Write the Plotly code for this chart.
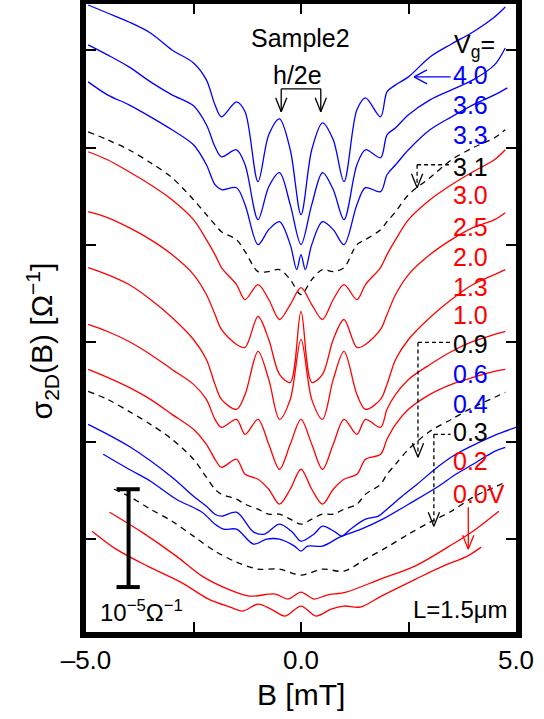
import plotly.graph_objects as go

# Vertical unit: ~1e-7 Ohm^-1 (98 units = 1e-5 Ohm^-1, the scale bar); traces are offset.
B_common = [-4.95,-4.5,-4,-3.5,-3,-2.5,-2.2,-2.0,-1.85,-1.5,-1.3,-1.0,-0.75,-0.5,-0.25,0,
            0.25,0.5,0.75,1.0,1.3,1.5,1.85,2.0,2.2,2.5,3,3.5,4,4.5,4.75]
B_spike = [-4.95,-4.5,-4,-3.5,-3,-2.5,-2.2,-2.0,-1.85,-1.5,-1.3,-1.0,-0.75,-0.5,-0.25,-0.1,0,0.1,
           0.25,0.5,0.75,1.0,1.3,1.5,1.85,2.0,2.2,2.5,3,3.5,4,4.5,4.8]

sig_40 = [635,627,618,607,590,577,560,535,523,538,528,458,505,521,490,425,490,517,500,458,530,542,523,548,555,563,583,596,608,623,633]
sig_36 = [595,585,573,558,545,534,515,493,483,490,475,420,453,467,435,395,435,467,450,420,475,490,482,505,512,525,540,550,560,575,592]
sig_33 = [558,545,535,523,510,495,475,455,450,452,435,395,410,418,395,370,385,370,395,418,410,395,435,452,448,465,475,490,510,523,535,545,552]
sig_31 = [508,500,490,477,462,440,425,415,408,400,388,368,368,370,360,345,360,370,368,372,395,400,410,418,428,445,462,480,492,502,510]
sig_30 = [488,480,468,455,440,420,400,385,372,355,340,355,340,320,335,352,335,320,340,355,340,355,372,385,400,420,440,455,468,480,490]
sig_25 = [428,422,412,400,385,365,345,325,310,295,292,323,300,265,257,328,257,265,300,320,292,295,310,325,345,365,385,400,412,420,427]
sig_20 = [372,365,355,340,322,300,280,255,240,230,245,288,260,220,240,300,240,220,260,288,245,230,240,255,280,300,322,340,355,365,370]
sig_13 = [315,308,298,285,270,255,240,220,212,220,205,220,195,170,195,220,195,170,195,220,205,220,212,230,245,260,275,288,298,305,308]
sig_10 = [270,262,252,240,225,210,195,180,172,180,165,160,150,135,150,170,150,135,150,160,165,180,185,200,215,230,245,255,262,268,270]
sig_09 = [248,240,228,215,200,180,162,150,145,140,135,130,125,125,120,115,120,125,125,130,135,145,155,165,175,190,208,220,232,242,247]

B_06 = [-4.95,-4,-3,-2.5,-2.2,-2.0,-1.85,-1.5,-1.1,-0.85,-0.5,-0.2,0,0.3,0.5,0.8,0.95,1.15,1.5,1.8,2.0,2.35,2.7,3.2,3.6,4.0,4.5,5.0]
sig_06 = [215,193,162,143,133,125,123,127,107,105,115,107,98,105,113,107,103,110,120,123,130,143,155,173,185,194,204,212]

B_04 = [-4.6,-4,-3.5,-2.9,-2.3,-2.0,-1.8,-1.5,-1.1,-0.8,-0.5,-0.15,0,0.15,0.5,0.9,1.4,1.9,2.5,3.2,3.6,4.0,4.5,4.75]
sig_04 = [185,170,158,140,127,115,110,110,95,100,100,93,88,93,93,102,110,120,135,153,165,175,188,192]

B_03 = [-4.35,-4,-3.5,-3,-2.5,-2.0,-1.5,-1.0,-0.5,0,0.5,1.0,1.5,2.0,2.5,3,3.5,4,4.5,4.75]
sig_03 = [150,143,130,118,103,88,77,70,70,64,70,68,80,92,105,117,128,142,152,157]

B_02 = [-4.45,-3.7,-2.9,-2.3,-1.7,-1.2,-0.6,-0.3,0,0.3,0.6,1.05,1.85,2.65,3.45,4.0,4.6]
sig_02 = [127,107,83,63,50,43,45,40,47,40,44,47,60,73,93,108,128]

B_00 = [-4.86,-4.3,-3.57,-2.8,-2.15,-1.65,-1.35,-1.0,-0.7,-0.37,0,0.35,0.7,1.0,1.38,1.87,2.67,3.3,3.87,4.19]
sig_00 = [108,90,73,57,40,32,28,35,30,23,33,23,30,33,32,43,60,73,83,92]

x_tickvals = [-5, 0, 5]
x_ticktext = ["–5.0", "0.0", "5.0"]
x_minor = [-2.5, 2.5]
y_ticks = [100, 197, 297, 395, 492, 590]

BLUE, RED, BLACK = "#0000ff", "#ff0000", "#000000"
traces = [
    ("4.0", B_common, sig_40, BLUE, "solid"),
    ("3.6", B_common, sig_36, BLUE, "solid"),
    ("3.3", B_spike, sig_33, BLUE, "solid"),
    ("3.1", B_common, sig_31, BLACK, "dash"),
    ("3.0", B_common, sig_30, RED, "solid"),
    ("2.5", B_common, sig_25, RED, "solid"),
    ("2.0", B_common, sig_20, RED, "solid"),
    ("1.3", B_common, sig_13, RED, "solid"),
    ("1.0", B_common, sig_10, RED, "solid"),
    ("0.9", B_common, sig_09, BLACK, "dash"),
    ("0.6", B_06, sig_06, BLUE, "solid"),
    ("0.4", B_04, sig_04, BLUE, "solid"),
    ("0.3", B_03, sig_03, BLACK, "dash"),
    ("0.2", B_02, sig_02, RED, "solid"),
    ("0.0V", B_00, sig_00, RED, "solid"),
]
label_y = [565,535,505,473,445,413,383,353,325,295,265,235,207,178,145]

FONT = "Liberation Sans, Arial, sans-serif"
fig = go.Figure()
for name, bx, sy, col, dash in traces:
    fig.add_trace(go.Scatter(x=bx, y=sy, mode="lines", name=name,
                             line=dict(color=col, width=1.3, shape="spline", smoothing=0.9,
                                       dash="6px,5px" if dash == "dash" else "solid"),
                             showlegend=False, hoverinfo="skip"))

ann = []
for (name, bx, sy, col, dash), ly in zip(traces, label_y):
    ann.append(dict(x=3.48, y=ly, xref="x", yref="y", text=name, showarrow=False,
                    xanchor="left", yanchor="middle", font=dict(family=FONT, size=25, color=col)))
ann += [
    dict(x=3.5, y=594, xref="x", yref="y", text="V<sub>g</sub>=", showarrow=False, xanchor="left",
         yanchor="middle", font=dict(family=FONT, size=25, color="black")),
    dict(x=-0.02, y=602, xref="x", yref="y", text="Sample2", showarrow=False,
         xanchor="center", yanchor="middle", font=dict(family=FONT, size=25, color="black")),
    dict(x=-0.08, y=565, xref="x", yref="y", text="h/2e", showarrow=False,
         xanchor="center", yanchor="middle", font=dict(family=FONT, size=25, color="black")),
    dict(x=4.86, y=30, xref="x", yref="y", text="L=1.5μm", showarrow=False, xanchor="right",
         yanchor="middle", font=dict(family=FONT, size=24, color="black")),
    dict(x=-3.71, y=28, xref="x", yref="y", text="10<sup>−5</sup>Ω<sup>−1</sup>", showarrow=False,
         xanchor="center", yanchor="middle", font=dict(family=FONT, size=24, color="black")),
    dict(x=-0.102, y=0.463, xref="paper", yref="paper", text="σ<sub>2D</sub>(B) [Ω<sup>−1</sup>]",
         textangle=-90, showarrow=False, xanchor="center", yanchor="middle",
         font=dict(family=FONT, size=30, color="black")),
    dict(x=0.5, y=-0.1, xref="paper", yref="paper", text="B [mT]", showarrow=False,
         xanchor="center", yanchor="middle", font=dict(family=FONT, size=30, color="black")),
]

def seg(x0, y0, x1, y1, col="black", w=1.3, dash="solid"):
    return dict(type="line", xref="x", yref="y", x0=x0, y0=y0, x1=x1, y1=y1,
                line=dict(color=col, width=w, dash=dash))

def vhead(x, y, col, direction="down"):
    if direction == "down":
        return [seg(x, y, x - 0.13, y + 14, col), seg(x, y, x + 0.13, y + 14, col)]
    return [seg(x, y, x + 0.3, y + 7, col), seg(x, y, x + 0.3, y - 7, col)]

shapes = []
shapes += [seg(-0.46, 551, 0.46, 551), seg(-0.46, 551, -0.46, 528), seg(0.46, 551, 0.46, 528)]
shapes += vhead(-0.46, 528, "black") + vhead(0.46, 528, "black")
shapes += [seg(3.48, 563, 2.63, 563, BLUE)] + vhead(2.63, 563, BLUE, "left")
for xh, yh, ytip in [(2.70, 475, 452), (2.72, 297, 182), (3.09, 205, 113)]:
    shapes += [seg(xh, yh, 3.48, yh, dash="4px,3px"), seg(xh, yh, xh, ytip, dash="4px,3px")]
    shapes += vhead(xh, ytip, "black")
shapes += [seg(3.89, 132, 3.89, 90, RED)] + vhead(3.89, 90, RED)
shapes += [seg(-4.01, 150, -4.01, 52, w=4), seg(-4.29, 150, -3.75, 150, w=4), seg(-4.29, 52, -3.75, 52, w=4)]

fig.update_layout(
    width=544, height=719, margin=dict(l=86, r=28, t=4, b=87, autoexpand=False),
    paper_bgcolor="white", plot_bgcolor="white",
    annotations=ann, shapes=shapes,
    font=dict(family=FONT, color="black"),
)
fig.update_xaxes(range=[-5, 5], tickvals=x_tickvals, ticktext=x_ticktext,
                 ticks="inside", ticklen=10, tickwidth=1.5, tickcolor="black", automargin=False,
                 minor=dict(tickvals=x_minor, ticks="inside", ticklen=10, tickwidth=1.5, tickcolor="black",
                            showgrid=False),
                 showline=True, linewidth=6, linecolor="black", mirror="ticks",
                 showgrid=False, zeroline=False, tickfont=dict(family=FONT, size=26, color="black"))
fig.update_yaxes(range=[7, 636], tickvals=y_ticks, showticklabels=False,
                 ticks="inside", ticklen=10, tickwidth=1.5, tickcolor="black", automargin=False,
                 showline=True, linewidth=6, linecolor="black", mirror="ticks",
                 showgrid=False, zeroline=False)
fig.write_html("out.html", config={"displayModeBar": False},
               post_script="document.body.style.margin='0px';document.body.style.overflow='hidden';")
